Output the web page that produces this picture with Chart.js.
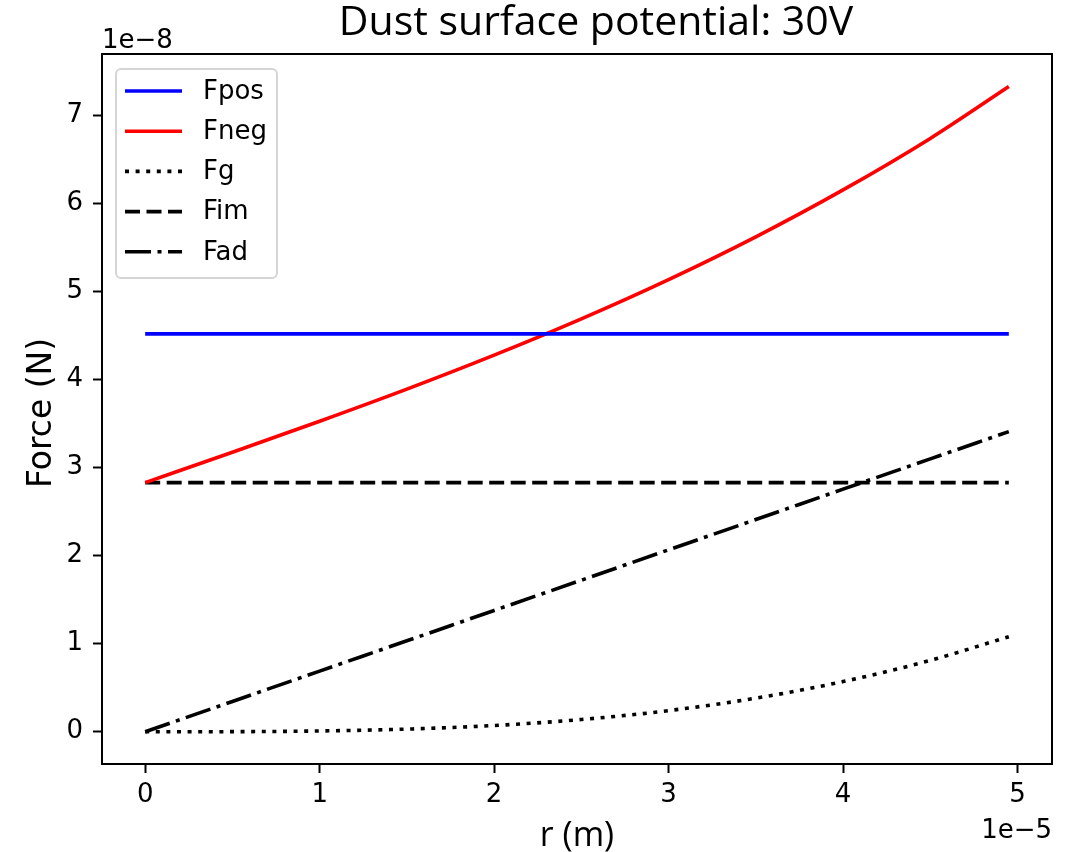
<!DOCTYPE html>
<html>
<head>
<meta charset="utf-8">
<script src="https://cdn.jsdelivr.net/npm/chart.js@4.4.1/dist/chart.umd.min.js"></script>
<style>
  body { margin: 0; background: #fff; }
  canvas { display: block; }
</style>
</head>
<body>
<canvas id="forceChart" width="1079" height="852"></canvas>
<script>
// r values (units of 1e-5 m) and forces (units of 1e-8 N)
const rVals = [0, 0.5, 1, 1.5, 2, 2.5, 3, 3.5, 4, 4.5, 4.95];
const fPos  = [4.52, 4.52, 4.52, 4.52, 4.52, 4.52, 4.52, 4.52, 4.52, 4.52, 4.52];
const fNeg  = [2.83, 3.175, 3.528, 3.893, 4.279, 4.691, 5.137, 5.623, 6.156, 6.741, 7.33];
const fG    = [0, 0.001, 0.009, 0.030, 0.071, 0.139, 0.240, 0.382, 0.570, 0.811, 1.08];
const fIm   = [2.83, 2.83, 2.83, 2.83, 2.83, 2.83, 2.83, 2.83, 2.83, 2.83, 2.83];
const fAd   = [0, 0.344, 0.689, 1.033, 1.378, 1.722, 2.067, 2.411, 2.756, 3.100, 3.41];

const xTicks = [0, 1, 2, 3, 4, 5];
const yTicks = [0, 1, 2, 3, 4, 5, 6, 7];

const tickFont = { family: 'DejaVu Sans', size: 26 };

function pts(ys) {
    return rVals.map((r, i) => ({ x: r, y: ys[i] }));
}

function series(label, ys, color, dash) {
    return {
        label: label,
        data: pts(ys),
        borderColor: color,
        backgroundColor: color,
        borderWidth: 3.6,
        borderDash: dash,
        borderCapStyle: 'butt',
        pointRadius: 0,
        cubicInterpolationMode: 'monotone',
        fill: false
    };
}

// frame, title, offset texts, axis labels and legend
const decorations = {
    id: 'decorations',
    afterDraw(chart) {
        const ctx = chart.ctx;
        const a = chart.chartArea;
        ctx.save();

        ctx.strokeStyle = '#000';
        ctx.lineWidth = 2;
        ctx.setLineDash([]);
        ctx.strokeRect(a.left, a.top, a.right - a.left, a.bottom - a.top);

        ctx.fillStyle = '#000';
        ctx.font = '41px "Open Sans"';
        ctx.textAlign = 'center';
        ctx.textBaseline = 'alphabetic';
        ctx.fillText('Dust surface potential: 30V', 596, 35);

        ctx.font = '26px "DejaVu Sans"';
        ctx.textAlign = 'left';
        ctx.fillText('1e\u22128', a.left, 48);
        ctx.textAlign = 'right';
        ctx.fillText('1e\u22125', a.right, 838);

        ctx.font = '34px "Open Sans"';
        ctx.textAlign = 'center';
        ctx.fillText('r (m)', 577, 846);

        ctx.save();
        ctx.translate(51, 413);
        ctx.rotate(-Math.PI / 2);
        ctx.font = '33px "DejaVu Sans"';
        ctx.textAlign = 'center';
        ctx.fillText('Force (N)', 0, 0);
        ctx.restore();

        // legend
        const bx = 116, by = 69, bw = 161, bh = 209;
        ctx.beginPath();
        ctx.roundRect(bx, by, bw, bh, 5);
        ctx.fillStyle = 'rgba(255,255,255,0.8)';
        ctx.fill();
        ctx.strokeStyle = '#d5d5d5';
        ctx.lineWidth = 2;
        ctx.stroke();

        ctx.font = '26px "DejaVu Sans"';
        ctx.textAlign = 'left';
        ctx.textBaseline = 'middle';
        chart.data.datasets.forEach((ds, i) => {
            const y = 91 + i * 40.2;
            ctx.beginPath();
            ctx.strokeStyle = ds.borderColor;
            ctx.lineWidth = ds.borderWidth;
            ctx.lineCap = 'butt';
            ctx.setLineDash(ds.borderDash || []);
            ctx.moveTo(125, y);
            ctx.lineTo(182, y);
            ctx.stroke();
            ctx.setLineDash([]);
            ctx.fillStyle = '#000';
            ctx.fillText(ds.label, 203, y + 1);
        });

        ctx.restore();
    }
};

new Chart(document.getElementById('forceChart'), {
    type: 'line',
    data: {
        datasets: [
            series('Fpos', fPos, '#0000ff', []),
            series('Fneg', fNeg, '#ff0000', []),
            series('Fg', fG, '#000000', [4, 6.6]),
            series('Fim', fIm, '#000000', [15, 6.5]),
            series('Fad', fAd, '#000000', [26, 6.5, 4, 6.5])
        ]
    },
    options: {
        responsive: false,
        animation: false,
        layout: { padding: { left: 0, top: 54, right: 27, bottom: 0 } },
        plugins: {
            legend: { display: false },
            tooltip: { enabled: false }
        },
        scales: {
            x: {
                type: 'linear',
                min: -0.2475,
                max: 5.1975,
                afterFit(scale) { scale.height = 88; },
                afterBuildTicks(scale) { scale.ticks = xTicks.map(v => ({ value: v })); },
                border: { display: false },
                grid: {
                    drawOnChartArea: false,
                    drawTicks: true,
                    tickLength: 9,
                    tickWidth: 2,
                    tickColor: '#000'
                },
                ticks: { color: '#000', font: tickFont, padding: 7, maxRotation: 0 }
            },
            y: {
                type: 'linear',
                min: -0.3665,
                max: 7.70,
                afterFit(scale) { scale.width = 102; },
                afterBuildTicks(scale) { scale.ticks = yTicks.map(v => ({ value: v })); },
                border: { display: false },
                grid: {
                    drawOnChartArea: false,
                    drawTicks: true,
                    tickLength: 9,
                    tickWidth: 2,
                    tickColor: '#000'
                },
                ticks: { color: '#000', font: tickFont, padding: 10 }
            }
        }
    },
    plugins: [decorations]
});
</script>
</body>
</html>
